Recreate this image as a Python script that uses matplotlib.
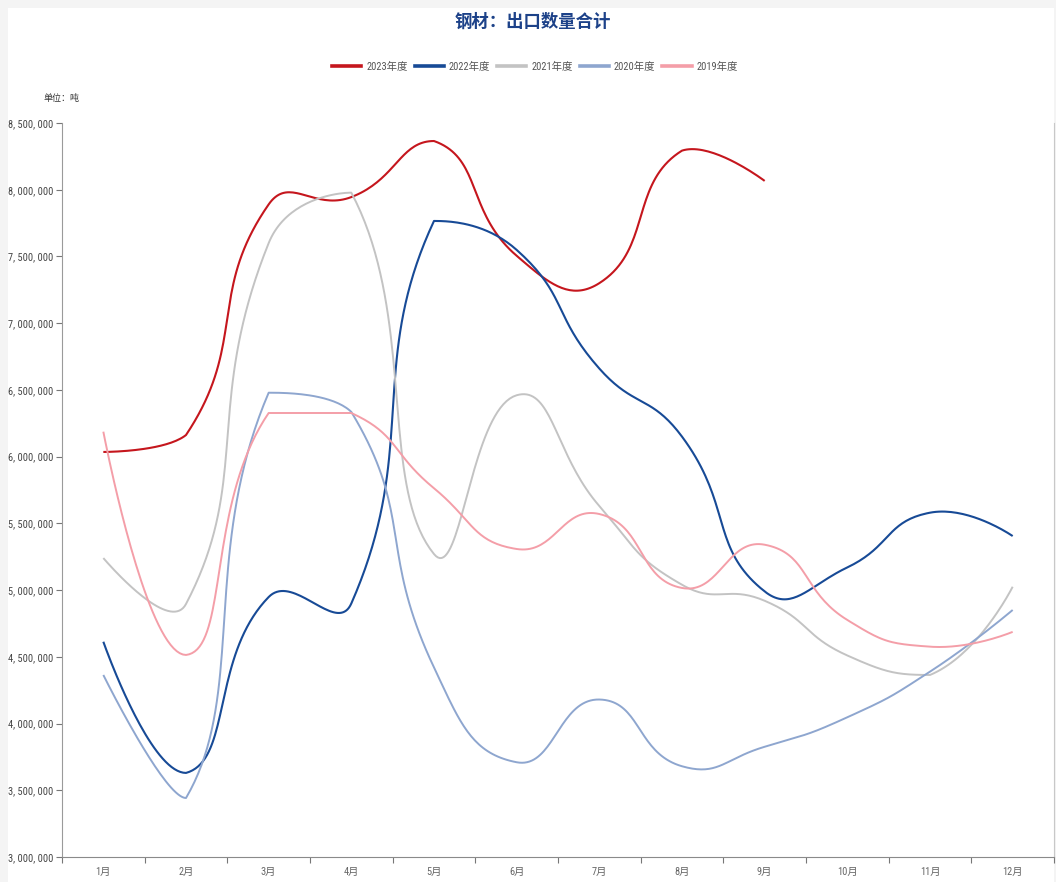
import matplotlib
matplotlib.use("Agg")
import matplotlib.pyplot as plt
from matplotlib import font_manager
from matplotlib.patches import Rectangle
from matplotlib.lines import Line2D
import numpy as np

months = ['1月', '2月', '3月', '4月', '5月', '6月', '7月', '8月', '9月', '10月', '11月', '12月']

# monthly steel exports, tonnes
y2023 = [6035000, 6162000, 7890000, 7945000, 8365000, 7505000, 7300000, 8293000, 8066000]
y2022 = [4613000, 3630000, 4948000, 4900000, 7766000, 7549000, 6660000, 6150000, 4990000, 5170000, 5580000, 5405000]
y2021 = [5240000, 4896000, 7600000, 7978000, 5270000, 6460000, 5630000, 5040000, 4920000, 4510000, 4364000, 5025000]
y2020 = [4364000, 3442000, 6479000, 6335000, 4420000, 3710000, 4180000, 3680000, 3826000, 4047000, 4389000, 4851000]
y2019 = [6187000, 4514000, 6327000, 6327000, 5763000, 5308000, 5570000, 5016000, 5340000, 4776000, 4576000, 4687000]

series = [
    ('2023年度', y2023, '#c5161d', 1.5),
    ('2022年度', y2022, '#174a96', 1.5),
    ('2021年度', y2021, '#c3c3c3', 1.4),
    ('2020年度', y2020, '#8ea6cf', 1.4),
    ('2019年度', y2019, '#f49ea8', 1.4),
]

# pick a narrow face for axis text if one is installed
fonts = font_manager.fontManager.ttflist
narrow_family, narrow_stretch = 'DejaVu Sans', 'normal'
for f in fonts:
    if f.name in ('Liberation Sans Narrow', 'Arial Narrow', 'Roboto Condensed'):
        narrow_family, narrow_stretch = f.name, 'normal'
        break
else:
    for f in fonts:
        if f.name == 'DejaVu Sans' and str(f.stretch) in ('condensed', 'semi-condensed'):
            narrow_stretch = 'condensed'
            break
AXIS_FONT = dict(family=[narrow_family, 'Noto Sans CJK SC'], stretch=narrow_stretch)
tick_size = 7.5 if narrow_stretch == 'condensed' or narrow_family != 'DejaVu Sans' else 6.5


def smooth_curve(pts, smooth=0.5, steps=40):
    """Bezier smoothing through pts (pixel space), control points kept
    inside the bounding box of the series."""
    lo = pts.min(axis=0)
    hi = pts.max(axis=0)
    n = len(pts)
    out = [pts[0]]
    cp0 = pts[0].copy()
    t = np.linspace(0, 1, steps)[1:, None]
    for i in range(1, n):
        p, prev = pts[i], pts[i - 1]
        if i == n - 1:
            cp1 = p.copy()
            v = np.zeros(2)
            ratio = 0.5
        else:
            nxt = pts[i + 1]
            v = nxt - prev
            d0 = np.hypot(*(p - prev))
            d1 = np.hypot(*(p - nxt))
            ratio = d1 / (d0 + d1)
            cp1 = p - v * smooth * (1 - ratio)
        cp0 = np.clip(cp0, lo, hi)
        cp1 = np.clip(cp1, lo, hi)
        seg = ((1 - t) ** 3 * prev + 3 * (1 - t) ** 2 * t * cp0
               + 3 * (1 - t) * t ** 2 * cp1 + t ** 3 * p)
        out.extend(seg)
        cp0 = p + v * smooth * ratio
    return np.array(out)


W, H = 1056, 882
fig = plt.figure(figsize=(W / 100, H / 100), dpi=100)
fig.patch.set_facecolor('#f4f4f4')
fig.add_artist(Rectangle((8 / W, 0), (1054 - 8) / W, (H - 8) / H,
                         transform=fig.transFigure, facecolor='white',
                         edgecolor='none', zorder=0))

ax = fig.add_axes([62 / W, 1 - 857 / H, (1054 - 62) / W, (857 - 123) / H])
ax.set_facecolor('none')
ax.set_xlim(-0.5, 11.5)
ax.set_ylim(3000000, 8500000)

fig.canvas.draw()
for name, vals, color, lw in series:
    xs = np.arange(len(vals))
    disp = ax.transData.transform(np.column_stack([xs, vals]))
    curve = ax.transData.inverted().transform(smooth_curve(disp))
    ax.plot(curve[:, 0], curve[:, 1], color=color, lw=lw,
            solid_capstyle='butt', clip_on=False)

# axes styling
ax.spines['top'].set_visible(False)
ax.spines['left'].set_color('#9a9a9a')
ax.spines['bottom'].set_color('#8a8a8a')
ax.spines['right'].set_color('#c8c8c8')

yt = np.arange(3000000, 8500001, 500000)
ax.set_yticks(yt)
ax.set_yticklabels([f"{v:,}".replace(",", ", ") for v in yt], **AXIS_FONT)
ax.tick_params(axis='y', direction='out', length=4, width=0.8, color='#777777',
               labelsize=tick_size, labelcolor='#444444', pad=2.5)

ax.set_xticks(np.arange(-0.5, 12, 1))
ax.set_xticklabels([])
ax.set_xticks(np.arange(12), minor=True)
ax.set_xticklabels(months, minor=True, **AXIS_FONT)
ax.tick_params(axis='x', which='major', direction='out', length=4, width=0.8, color='#777777')
ax.tick_params(axis='x', which='minor', length=0, labelsize=tick_size,
               labelcolor='#666666', pad=7)

fig.text(533 / W, 1 - 22 / H, '钢材：出口数量合计', ha='center', va='center',
         fontsize=12.5, fontweight='bold', color='#1d4289', family=['Noto Sans CJK SC'])
fig.text(62 / W, 1 - 98 / H, '单位：吨', ha='center', va='center',
         fontsize=6.5, color='#333333', family=['Noto Sans CJK SC'])

handles = [Line2D([0], [0], color=c, lw=2.6) for _, _, c, _ in series]
leg = fig.legend(handles, [s[0] for s in series], loc='center', ncol=5,
                 bbox_to_anchor=(535 / W, 1 - 67 / H), frameon=False,
                 prop=dict(size=7.5, **AXIS_FONT), handlelength=2.8,
                 handletextpad=0.45, columnspacing=0.7)
for txt in leg.get_texts():
    txt.set_color('#555555')

fig.savefig('out.png', dpi=100, facecolor=fig.get_facecolor())
